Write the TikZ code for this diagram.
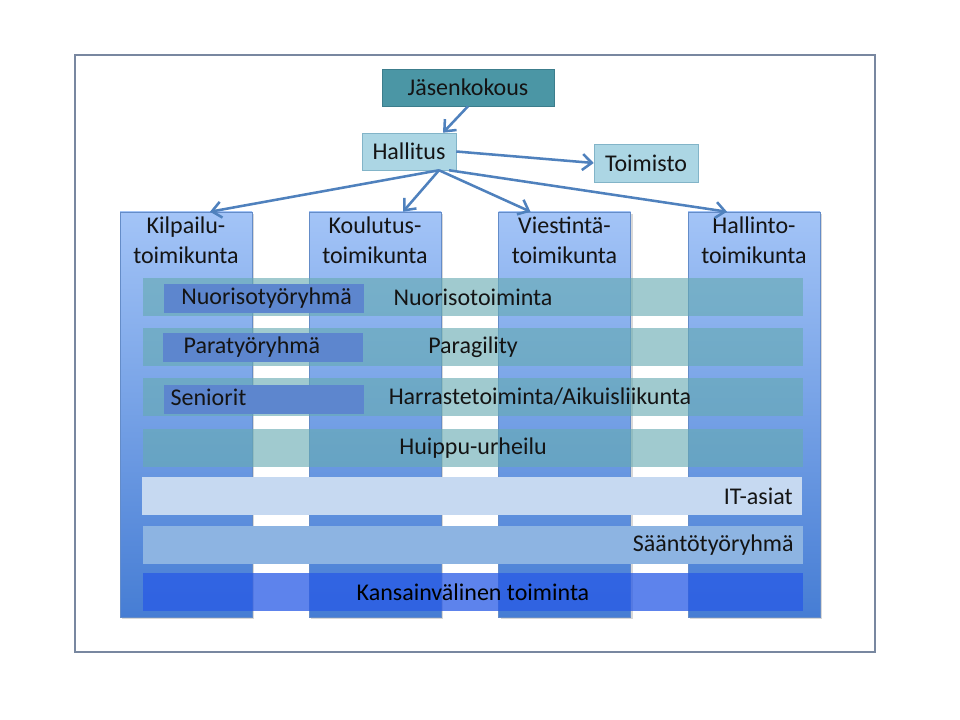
\documentclass[tikz,border=0pt]{standalone}
\usepackage{fontspec}
\setmainfont{Carlito}
\usetikzlibrary{arrows.meta, positioning, calc, shadows}
\definecolor{framecol}{RGB}{120,135,160}
\definecolor{jasencol}{RGB}{75,150,165}
\definecolor{jasenline}{RGB}{60,125,140}
\definecolor{hallcol}{RGB}{172,214,228}
\definecolor{hallline}{RGB}{130,180,200}
\definecolor{coltop}{RGB}{163,196,247}
\definecolor{colbot}{RGB}{70,125,212}
\definecolor{colline}{RGB}{100,140,200}
\definecolor{tealband}{RGB}{102,171,178}
\definecolor{grpcol}{RGB}{93,134,206}
\definecolor{itcol}{RGB}{198,217,241}
\definecolor{saantocol}{RGB}{141,180,226}
\definecolor{intlcol}{RGB}{40,90,230}
\definecolor{arrowcol}{RGB}{79,129,189}
\definecolor{txtcol}{RGB}{20,20,20}
\tikzset{
  org/.style = {rectangle, minimum height=27.75pt, inner sep=2pt, align=center, text=txtcol},
  column/.style = {rectangle, minimum width=99pt, minimum height=303.75pt, draw=colline, top color=coltop, bottom color=colbot, drop shadow={shadow xshift=1.5pt, shadow yshift=-1.5pt, opacity=0.3}},
  coltext/.style = {align=center, inner sep=2pt, text=txtcol, anchor=north, yshift=-2pt},
  band/.style = {rectangle, minimum width=495pt, minimum height=28.5pt, inner sep=2pt, text=txtcol},
  teal/.style = {band, fill=tealband, fill opacity=0.62, text opacity=1},
  group/.style = {rectangle, minimum width=150pt, minimum height=21.75pt, fill=grpcol},
  bandtext/.style = {inner sep=2pt, text=txtcol},
  arrow/.style = {draw=arrowcol, line width=1.9pt, -{Straight Barb[length=7pt,width=12pt]}}
}

\begin{document}
\begin{tikzpicture}[x=0.75pt, y=-0.75pt, font=\fontsize{18}{22.5}\selectfont]

\useasboundingbox[fill=white] (0,0) rectangle (960,720);

% Frame
\node (frame) [draw=framecol, line width=0.8pt, minimum width=600pt, minimum height=447.75pt] at (475,353.5) {};

% Top of the organisation
\node (jasen) [org, minimum width=129pt, fill=jasencol, draw=jasenline] at (468,87.5) {Jäsenkokous};
\node (hall) [org, minimum width=70.5pt, fill=hallcol, draw=hallline] at (409,151.5) {Hallitus};
\node (toim) [org, minimum width=78pt, minimum height=28.5pt, fill=hallcol, draw=hallline] at (646,163) {Toimisto};

% Committees
\node (kilp) [column] at (186,414.5) {};
\node (koul) [column] at (375,414.5) {};
\node (vies) [column] at (564.5,414.5) {};
\node (hali) [column] at (754,414.5) {};
\node (kilp_txt) [coltext] at (kilp.north) {Kilpailu-\\toimikunta};
\node (koul_txt) [coltext] at (koul.north) {Koulutus-\\toimikunta};
\node (vies_txt) [coltext] at (vies.north) {Viestintä-\\toimikunta};
\node (hali_txt) [coltext] at (hali.north) {Hallinto-\\toimikunta};

% Activity bands
\node (nuor) [teal] at (473,297) {Nuorisotoiminta};
\node (para) [teal] at (473,347) {Paragility};
\node (harr) [teal] at (473,397) {};
\node (huip) [teal] at (473,448) {Huippu-urheilu};
\node (it) [band, fill=itcol] at (472,496) {};
\node (saan) [band, fill=saantocol] at (473,545) {};
\node (intl) [band, fill=intlcol, fill opacity=0.75, text opacity=1, text=black] at (473,592) {Kansainvälinen toiminta};

\node (harr_txt) [bandtext] at (540,397) {Harrastetoiminta/Aikuisliikunta};
\node (it_txt) [bandtext, left=5pt of it.east] {IT-asiat};
\node (saan_txt) [bandtext, left=5pt of saan.east] {Sääntötyöryhmä};

% Working groups
\node (nuor_grp) [group] at (264,298.5) {};
\node (para_grp) [group] at (263,347.5) {};
\node (seni_grp) [group] at (264,399) {};
\node (nuor_grp_txt) [bandtext, right=11pt of nuor_grp.west] {Nuorisotyöryhmä};
\node (para_grp_txt) [bandtext, right=13.5pt of para_grp.west] {Paratyöryhmä};
\node (seni_grp_txt) [bandtext, right=3pt of seni_grp.west, yshift=1.5pt] {Seniorit};

% Arrows
\draw [arrow] (jasen.south) -- ($(hall.north)+(34,0)$);
\draw [arrow] (hall.east) -- (toim.west);
\draw [arrow] ($(hall.south)+(30,0)$) -- ($(kilp.north)+(24,0)$);
\draw [arrow] ($(hall.south)+(30,0)$) -- ($(koul.north)+(28,0)$);
\draw [arrow] ($(hall.south)+(30,0)$) -- ($(vies.north)+(-34,0)$);
\draw [arrow] ($(hall.south)+(40,0)$) -- ($(hali.north)+(-27,0)$);

\end{tikzpicture}
\end{document}
